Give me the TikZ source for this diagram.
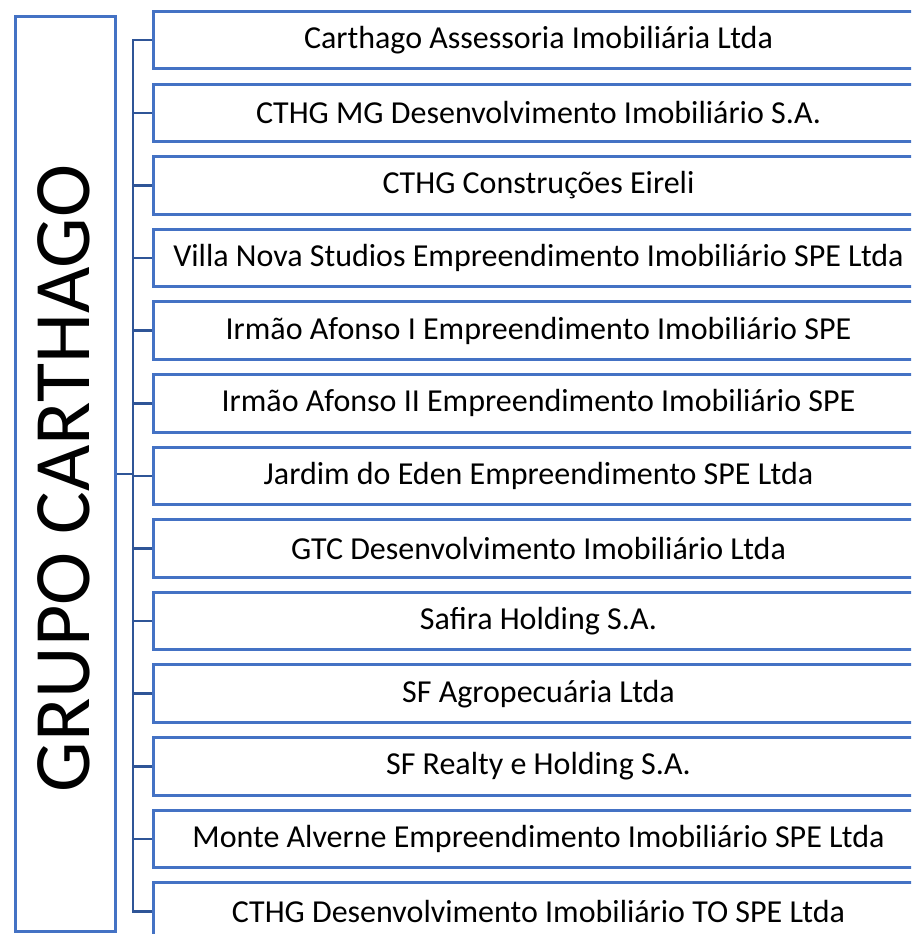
\documentclass[tikz,border=0pt]{standalone}
\usepackage{fontspec}
\setmainfont{Carlito}
\usepackage{tikz}
\usetikzlibrary{positioning,calc}
\definecolor{boxblue}{HTML}{4472C4}
\definecolor{linkblue}{HTML}{2F5597}
\tikzset{
    grupo/.style={draw=boxblue, line width=3pt, minimum width=100pt, minimum height=914pt, inner sep=0pt},
    empresa/.style={draw=boxblue, line width=3pt, minimum width=770pt, minimum height=57.5pt,
                    font=\fontsize{32}{38}\selectfont},
    link/.style={draw=linkblue, line width=2.5pt},
}

\begin{document}
\begin{tikzpicture}[x=1pt, y=-1pt]
    % picture frame
    \clip (0,0) rectangle (911,934);

    % Group box
    \node[grupo] (grupo) at (65.5,474) {};
    \node[rotate=90, font=\fontsize{80}{92}\selectfont] (titulo) at (64,478.5) {GRUPO CARTHAGO};

    % Companies
    \node[empresa] (e1) at (538.5,40.25) {Carthago Assessoria Imobiliária Ltda};
    \node[empresa] (e2) at (538.5,112.85) {CTHG MG Desenvolvimento Imobiliário S.A.};
    \node[empresa] (e3) at (538.5,185.45) {CTHG Construções Eireli};
    \node[empresa] (e4) at (538.5,258.05) {Villa Nova Studios Empreendimento Imobiliário SPE Ltda};
    \node[empresa] (e5) at (538.5,330.65) {Irmão Afonso I Empreendimento Imobiliário SPE};
    \node[empresa] (e6) at (538.5,403.25) {Irmão Afonso II Empreendimento Imobiliário SPE};
    \node[empresa] (e7) at (538.5,475.85) {Jardim do Eden Empreendimento SPE Ltda};
    \node[empresa] (e8) at (538.5,548.45) {GTC Desenvolvimento Imobiliário Ltda};
    \node[empresa] (e9) at (538.5,621.05) {Safira Holding S.A.};
    \node[empresa] (e10) at (538.5,693.65) {SF Agropecuária Ltda};
    \node[empresa] (e11) at (538.5,766.25) {SF Realty e Holding S.A.};
    \node[empresa] (e12) at (538.5,838.85) {Monte Alverne Empreendimento Imobiliário SPE Ltda};
    \node[empresa] (e13) at (538.5,911.45) {CTHG Desenvolvimento Imobiliário TO SPE Ltda};

    % Connectors
    \coordinate (spine) at ($(e1.west)+(-19,0)$);
    \draw[link] (grupo.east) -- (grupo.east -| spine);
    \draw[link] (e1.west) -- (spine) |- (e13.west);
    \draw[link] (e2.west) -- (e2.west -| spine);
    \draw[link] (e3.west) -- (e3.west -| spine);
    \draw[link] (e4.west) -- (e4.west -| spine);
    \draw[link] (e5.west) -- (e5.west -| spine);
    \draw[link] (e6.west) -- (e6.west -| spine);
    \draw[link] (e7.west) -- (e7.west -| spine);
    \draw[link] (e8.west) -- (e8.west -| spine);
    \draw[link] (e9.west) -- (e9.west -| spine);
    \draw[link] (e10.west) -- (e10.west -| spine);
    \draw[link] (e11.west) -- (e11.west -| spine);
    \draw[link] (e12.west) -- (e12.west -| spine);
\end{tikzpicture}
\end{document}
